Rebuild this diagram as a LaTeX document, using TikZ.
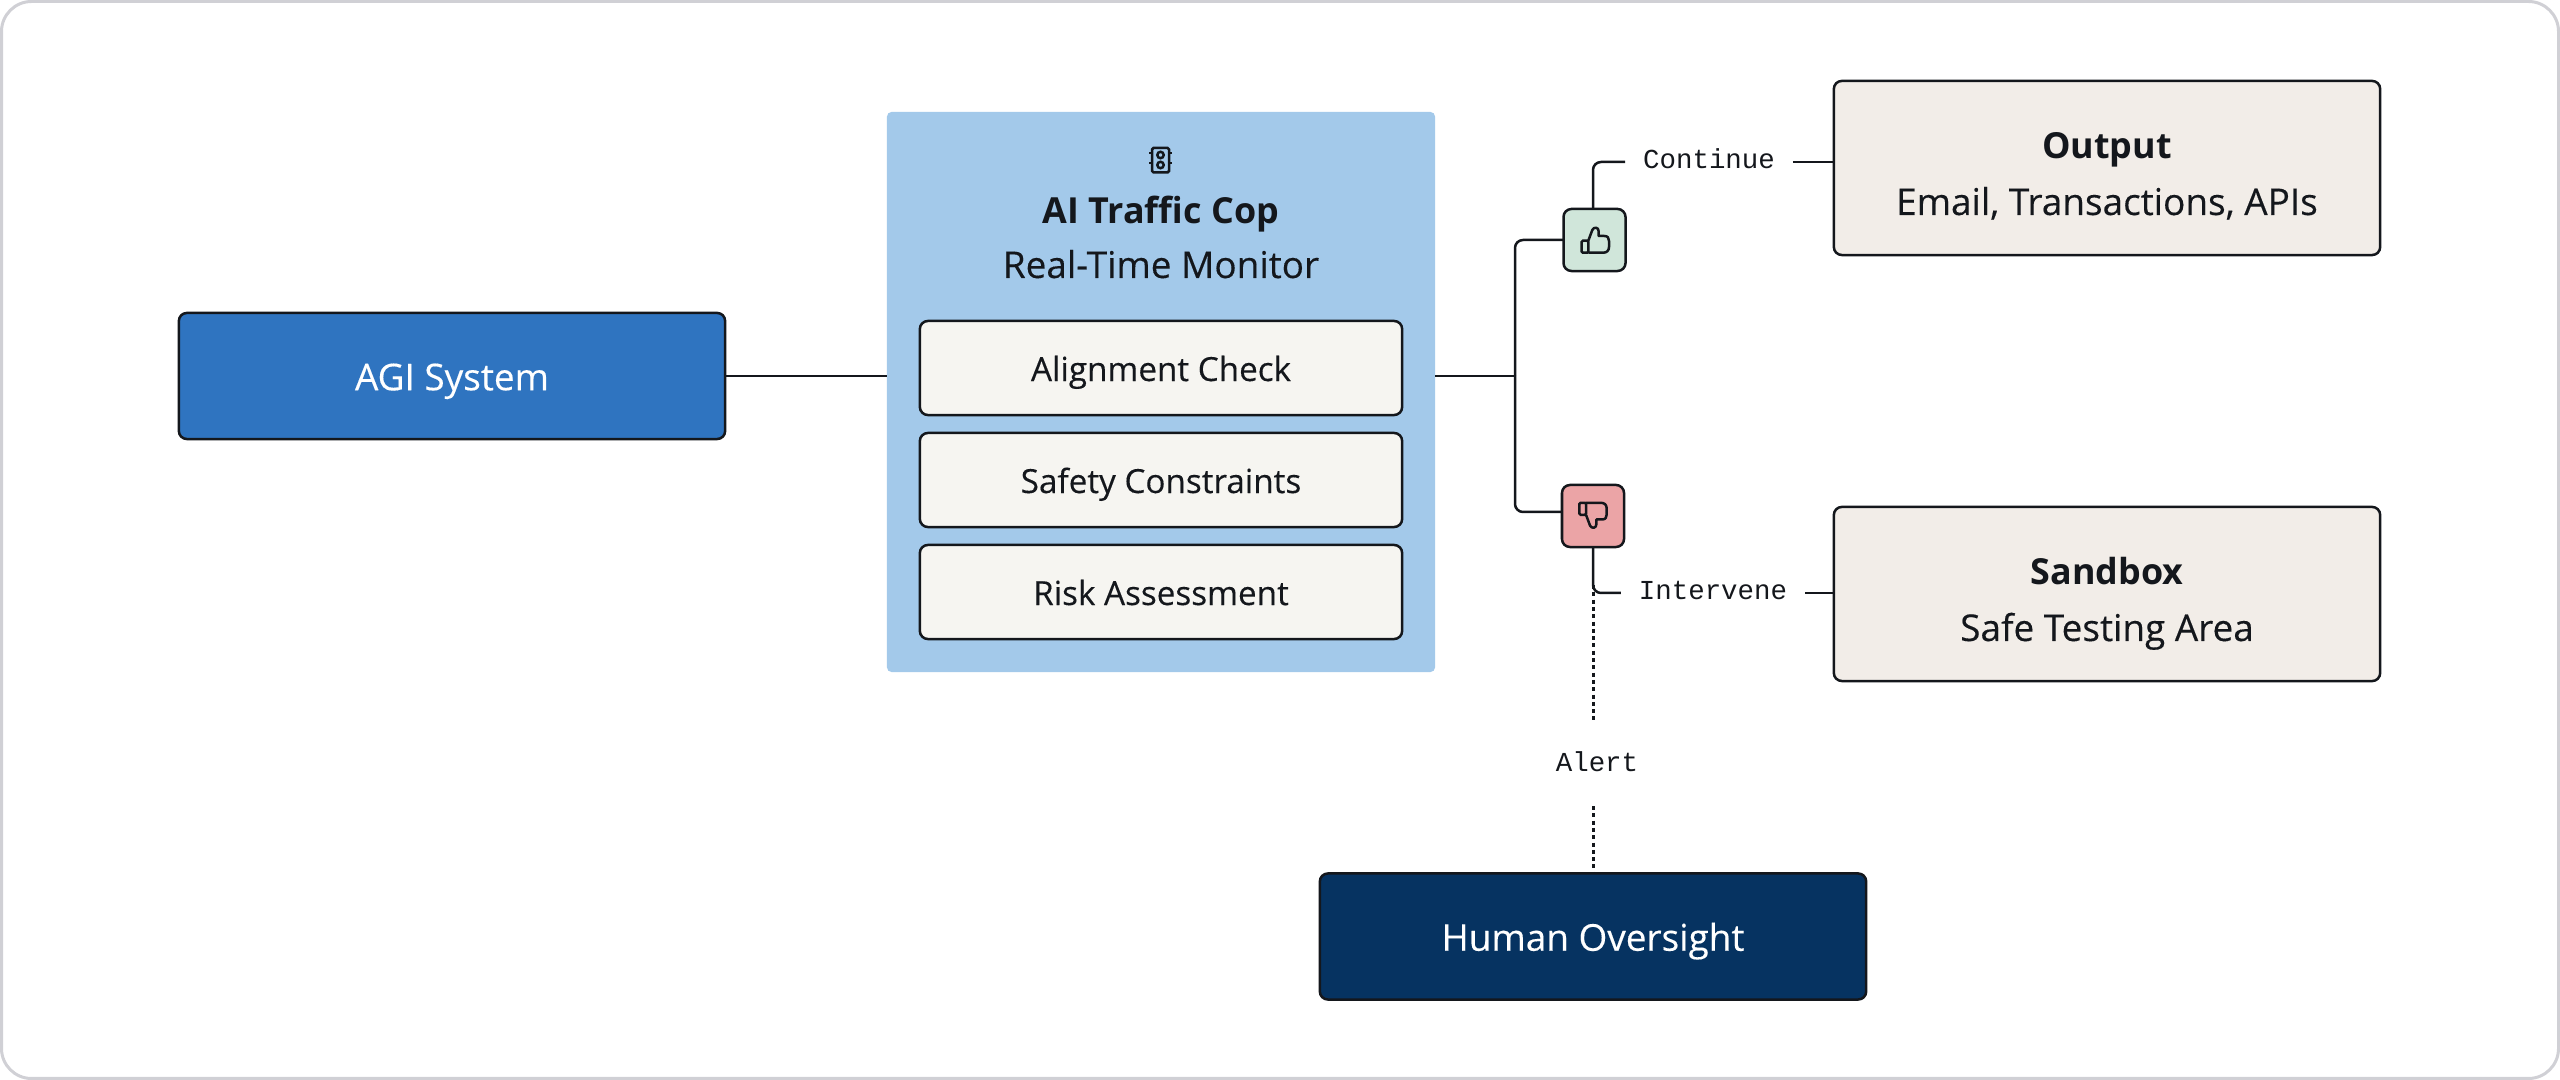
\documentclass[tikz,border=0pt]{standalone}
\usepackage{fontspec}
\setmainfont{Open Sans}
\newfontfamily\medfont{Open Sans}[RawFeature={embolden=0.25}]
\newfontfamily\labelfont{Liberation Mono}
\definecolor{inkc}{HTML}{14171C}
\definecolor{framec}{HTML}{D0D0D5}
\definecolor{agic}{HTML}{2F74C0}
\definecolor{monitorc}{HTML}{A3C9EA}
\definecolor{checkc}{HTML}{F6F5F1}
\definecolor{resultc}{HTML}{F2EDE8}
\definecolor{humanc}{HTML}{063361}
\definecolor{upc}{HTML}{D0E6DA}
\definecolor{downc}{HTML}{EBA4A6}
\tikzset{
    x=0.01cm,y=-0.01cm,
    wire/.style={draw=inkc,line width=0.025cm},
    elbow/.style={wire,rounded corners=0.08cm},
    dotline/.style={draw=inkc,line width=0.03cm,dash pattern=on 0.04cm off 0.033cm},
    box/.style={draw=inkc,line width=0.025cm,rounded corners=0.08cm,outer sep=0pt,inner sep=0pt,minimum width=5.46cm},
    darkbox/.style={box,minimum height=1.26cm,text=white,font=\fontsize{10.5}{12}\medfont,text height=8.1pt,text depth=0pt},
    checkbox/.style={box,fill=checkc,text=inkc,minimum width=4.82cm,minimum height=0.94cm,font=\fontsize{9.45}{12}\medfont,text height=7.4pt,text depth=0pt},
    resultbox/.style={box,fill=resultc,minimum height=1.74cm},
    votebox/.style={draw=inkc,line width=0.025cm,rounded corners=0.08cm,outer sep=0pt,inner sep=0pt,minimum size=0.62cm},
    headtext/.style={anchor=base,text=inkc,inner sep=0pt,font=\fontsize{10.2}{12}\selectfont\bfseries},
    subtext/.style={anchor=base,text=inkc,inner sep=0pt,font=\fontsize{10.5}{12}\medfont},
    flowlabel/.style={text=inkc,inner xsep=0.18cm,inner ysep=0pt,font=\fontsize{7.8}{10}\labelfont,text depth=2pt,text height=5.7pt,minimum height=0.84cm,outer sep=0pt},
    thumbicon/.pic={
        \draw[draw=inkc,line width=0.025cm,rounded corners=0.012cm] (-13.6,0.7) rectangle (-7,12.7);
        \draw[draw=inkc,line width=0.025cm,line join=round] (-7,0.7)--(-3,-10)..controls (-1.5,-13.5) and (3.5,-13) .. (3.4,-8.5)--(3.4,-4)--(9,-4)..controls (12.5,-4) and (13.7,-2) .. (13.7,1)--(13.7,7)..controls (13.7,10.5) and (11.5,12.7) .. (8,12.7)--(-7,12.7);
    }
}
\begin{document}
\begin{tikzpicture}
    \useasboundingbox (0,0) rectangle (2560,1080);
    \draw[framec,line width=0.03cm,rounded corners=0.3cm] (1.5,1.5) rectangle (2558.5,1078.5);

    \node[darkbox,fill=agic] (agi) at (452,376) {AGI System};
    \node[fill=monitorc,rounded corners=0.05cm,outer sep=0pt,inner sep=0pt,minimum width=5.48cm,minimum height=5.6cm] (monitor) at (1161,392) {};
    \draw[inkc,line width=0.025cm,rounded corners=0.015cm] (1152,148) rectangle (1169,172.5);
    \draw[inkc,line width=0.025cm] (1160.5,155) circle (3.2) (1160.5,165) circle (3.2);
    \foreach \ty in {153,163}{
        \draw[inkc,line width=0.025cm] (1149,\ty)--(1152,\ty) (1169,\ty)--(1172,\ty);
    }
    \node[headtext] (monitorhead) at (1161,223.5) {AI Traffic Cop};
    \node[subtext] (monitorsub) at (1161,278) {Real-Time Monitor};
    \foreach \name/\ty/\txt in {align/368/Alignment Check,safety/480/Safety Constraints,risk/592/Risk Assessment}{
        \node[checkbox] (\name) at (1161,\ty) {\txt};
    }

    \node[box,draw=inkc,resultbox] (output) at (2107,168) {};
    \node[headtext] (outputhead) at (2107,159) {Output};
    \node[subtext] (outputsub) at (2107,215) {Email, Transactions, APIs};
    \node[box,draw=inkc,resultbox] (sandbox) at (2107,594) {};
    \node[headtext] (sandboxhead) at (2107,585) {Sandbox};
    \node[subtext] (sandboxsub) at (2107,641) {Safe Testing Area};
    \node[darkbox,fill=humanc] (human) at (1593,936.5) {Human Oversight};

    \node[votebox,fill=upc] (up) at (1594.5,240) {};
    \node[votebox,fill=downc] (down) at (1593,516) {};
    \pic at (1595.3,240) {thumbicon};
    \pic[yscale=-1] at (1593,515.5) {thumbicon};

    \node[flowlabel] (continue) at (1709,162) {Continue};
    \node[flowlabel] (intervene) at (1713,593) {Intervene};
    \node[flowlabel,text height=6.54pt] (alert) at (1597,764) {Alert};

    \coordinate (split) at (1515,376);
    \coordinate (downjoin) at (1562,512);
    \coordinate (dotstart) at (1593,585);

    \draw[wire] (agi.east)--(agi.east-|monitor.west);
    \draw[wire] (monitor.east|-split)--(split);
    \draw[elbow] (split)|-(up.west);
    \draw[elbow] (split)|-(downjoin);
    \draw[elbow] ([xshift=-0.015cm]up.north)|-(continue.west);
    \draw[wire] (continue.east)--(continue.east-|output.west);
    \draw[elbow] (down.south)|-(intervene.west);
    \draw[wire] (intervene.east)--(intervene.east-|sandbox.west);
    \draw[dotline] (dotstart)--(alert.north-|dotstart);
    \draw[dotline] (alert.south-|dotstart)--(human.north);
\end{tikzpicture}
\end{document}
